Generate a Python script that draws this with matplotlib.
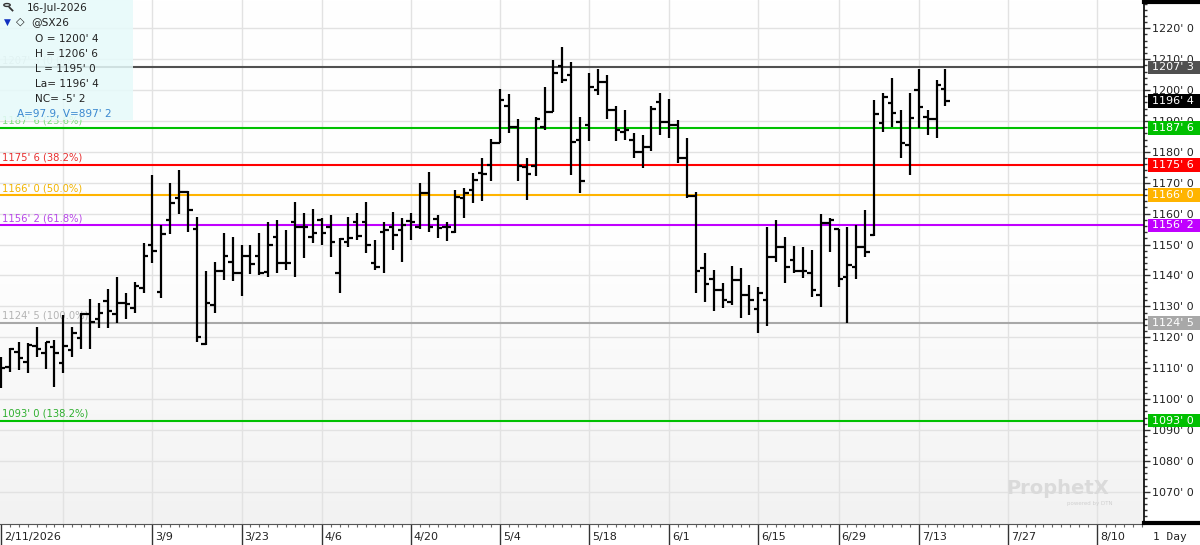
import numpy as np
import pandas as pd
import matplotlib
matplotlib.use("Agg")
import matplotlib.pyplot as plt
from matplotlib.patches import Rectangle, Circle
from matplotlib.lines import Line2D
from matplotlib.colors import LinearSegmentedColormap
from matplotlib.ticker import MultipleLocator, FuncFormatter
from matplotlib.transforms import ScaledTranslation

plt.rcParams['font.family'] = 'DejaVu Sans'

# daily OHLC for @SX26, one row per trading day from 2/11/2026
opens = [1108.0, 1110.5, 1115.3, 1112.1, 1117.2, 1115.0, 1117.0, 1111.8, 1115.9, 1119.9,
         1127.4, 1125.8, 1131.8, 1127.5, 1131.0, 1129.4, 1136.0, 1149.9, 1134.7, 1158.0,
         1165.0, 1167.1, 1155.2, 1117.8, 1130.6, 1141.4, 1144.5, 1140.9, 1146.3, 1146.3,
         1141.0, 1152.6, 1143.9, 1157.4, 1155.8, 1152.6, 1158.0, 1155.6, 1140.7, 1150.9,
         1157.4, 1157.4, 1143.9, 1154.2, 1155.6, 1154.7, 1157.6, 1155.6, 1166.6, 1158.2,
         1155.6, 1154.2, 1165.2, 1167.7, 1173.3, 1175.8, 1182.8, 1194.9, 1188.2, 1175.0,
         1175.4, 1188.2, 1193.0, 1207.8, 1204.9, 1183.8, 1188.7, 1200.0, 1202.7, 1193.5,
         1186.5, 1184.0, 1180.1, 1181.5, 1196.2, 1189.8, 1188.7, 1177.9, 1165.8, 1142.3,
         1138.7, 1135.3, 1131.3, 1138.5, 1133.7, 1129.0, 1132.0, 1146.1, 1149.1, 1145.0,
         1141.5, 1140.9, 1133.7, 1156.9, 1154.9, 1139.6, 1142.8, 1149.1, 1153.1, 1189.2,
         1195.7, 1189.8, 1182.2, 1200.0, 1191.4, 1190.8, 1200.5]
highs = [1113.7, 1116.4, 1118.6, 1118.0, 1123.4, 1118.6, 1119.1, 1127.2, 1123.4, 1127.7,
         1132.3, 1131.2, 1135.5, 1139.6, 1134.2, 1138.0, 1150.4, 1172.5, 1156.3, 1170.0,
         1174.1, 1167.3, 1158.8, 1141.4, 1144.5, 1153.6, 1152.3, 1149.9, 1149.9, 1153.6,
         1157.4, 1157.9, 1154.7, 1163.9, 1160.3, 1161.4, 1158.5, 1159.5, 1152.0, 1158.8,
         1160.1, 1163.9, 1151.5, 1157.4, 1160.6, 1158.5, 1160.3, 1169.8, 1173.6, 1159.6,
         1157.4, 1167.7, 1168.2, 1173.3, 1177.9, 1184.1, 1200.2, 1198.6, 1190.5, 1178.1,
         1191.2, 1200.9, 1209.7, 1213.8, 1209.2, 1191.2, 1205.6, 1206.7, 1204.9, 1194.8,
         1193.5, 1186.0, 1185.5, 1194.8, 1198.9, 1197.0, 1190.3, 1184.4, 1167.1, 1147.2,
         1141.8, 1137.5, 1143.2, 1142.3, 1136.9, 1136.4, 1155.8, 1157.9, 1152.3, 1149.5,
         1149.1, 1148.2, 1159.9, 1158.5, 1154.9, 1155.8, 1156.3, 1161.2, 1196.8, 1198.9,
         1203.8, 1193.5, 1198.9, 1206.7, 1193.5, 1203.3, 1206.75]
lows = [1103.5, 1108.9, 1109.4, 1108.3, 1113.7, 1109.6, 1104.0, 1108.3, 1113.7, 1116.1,
        1116.1, 1122.9, 1122.9, 1124.7, 1125.8, 1128.0, 1134.4, 1143.9, 1132.6, 1153.4,
        1160.0, 1154.2, 1118.6, 1117.5, 1127.7, 1138.5, 1138.3, 1133.4, 1140.5, 1140.2,
        1139.5, 1140.7, 1141.8, 1139.6, 1145.5, 1150.4, 1149.9, 1146.1, 1134.4, 1149.3,
        1151.5, 1147.2, 1141.8, 1140.7, 1148.2, 1144.5, 1151.5, 1155.2, 1154.2, 1152.0,
        1151.2, 1153.8, 1158.7, 1163.6, 1164.2, 1170.7, 1182.8, 1186.0, 1170.7, 1164.4,
        1172.2, 1187.1, 1193.0, 1202.2, 1172.5, 1166.6, 1183.6, 1198.4, 1190.5, 1183.6,
        1183.8, 1177.9, 1174.7, 1180.4, 1185.5, 1184.4, 1176.3, 1165.0, 1134.4, 1131.5,
        1128.6, 1129.4, 1130.4, 1126.1, 1127.2, 1121.5, 1123.6, 1144.5, 1137.7, 1140.7,
        1139.1, 1132.9, 1129.7, 1147.7, 1136.4, 1124.5, 1138.7, 1146.1, 1152.8, 1186.5,
        1188.2, 1177.9, 1172.5, 1187.6, 1185.5, 1184.4, 1195.0]
closes = [1110.2, 1116.1, 1113.2, 1117.5, 1116.2, 1118.4, 1115.0, 1117.2, 1121.3, 1127.5,
          1125.0, 1128.0, 1128.6, 1131.2, 1130.8, 1136.6, 1146.3, 1148.0, 1153.4, 1163.3,
          1167.1, 1161.2, 1120.2, 1131.0, 1141.4, 1146.3, 1140.9, 1146.3, 1143.7, 1140.7,
          1149.9, 1143.9, 1143.9, 1155.8, 1155.6, 1153.8, 1153.6, 1150.9, 1151.7, 1152.0,
          1152.8, 1149.9, 1142.6, 1154.7, 1153.1, 1156.3, 1157.4, 1166.6, 1155.6, 1155.3,
          1155.6, 1165.3, 1166.6, 1170.9, 1172.8, 1182.8, 1196.8, 1188.2, 1175.4, 1173.0,
          1190.5, 1193.0, 1205.4, 1203.3, 1183.3, 1170.7, 1201.1, 1202.7, 1193.5, 1187.1,
          1187.1, 1180.1, 1181.5, 1193.8, 1189.8, 1188.7, 1177.9, 1165.8, 1141.5, 1137.2,
          1135.3, 1132.1, 1138.5, 1133.7, 1132.1, 1134.2, 1146.1, 1149.1, 1142.6, 1141.5,
          1141.5, 1135.3, 1156.9, 1158.1, 1138.7, 1143.4, 1149.1, 1147.7, 1192.3, 1197.6,
          1192.5, 1182.8, 1190.9, 1194.6, 1190.8, 1201.75, 1196.5]

holidays = ['2026-02-16', '2026-04-03', '2026-05-25', '2026-06-19', '2026-07-03']
# fibonacci retracement levels
fib_levels = [1207.375, 1187.75, 1175.75, 1166.0, 1156.25, 1124.625, 1093.0]
fib_pcts = ['0.0%', '23.6%', '38.2%', '50.0%', '61.8%', '100.0%', '138.2%']
fib_colors = ['#505050', '#00c000', '#ff0000', '#ffb400', '#c000ff', '#a8a8a8', '#00c000']
fib_text_colors = ['#c4c4c4', '#80dc80', '#e83030', '#f2b400', '#b848e8', '#b4b4b4', '#30b030']


def fmt_price(v):
    neg = v < 0
    v = abs(v)
    whole = int(np.floor(v + 1e-9))
    eighth = int(round((v - whole) * 8))
    if eighth == 8:
        whole, eighth = whole + 1, 0
    return "{}{}' {}".format('-' if neg else '', whole, eighth)


W, H = 1200, 545
fig = plt.figure(figsize=(W / 100, H / 100), dpi=100)
strip = 21
ax = fig.add_axes([0, strip / H, 1144 / W, (H - strip) / H])

days = pd.bdate_range('2026-02-11', '2026-08-31')
days = days[~days.isin(pd.to_datetime(holidays))]
idx = np.arange(len(opens))

x0, x1 = -0.112, 128.28
y0, y1 = 1059.57, 1229.15
ax.set_xlim(x0, x1)
ax.set_ylim(y0, y1)

# background gradient
cmap = LinearSegmentedColormap.from_list('bg', ['#ffffff', '#fefefe', '#f2f2f2'])
ax.imshow(np.linspace(0, 1, 256).reshape(-1, 1), extent=[x0, x1, y0, y1],
          aspect='auto', cmap=cmap, zorder=0)

# grid
ax.set_yticks(np.arange(1070, 1221, 10))
ax.yaxis.set_minor_locator(MultipleLocator(2))
ax.yaxis.grid(True, color='#e2e2e2', lw=1, zorder=1)
grid_dates = pd.date_range('2026-02-23', '2026-08-10', freq='14D')
for d in grid_dates:
    ax.axvline(days.get_loc(d), color='#e2e2e2', lw=1, zorder=1)

# fib lines + labels
for lev, pct, c, tc in zip(fib_levels, fib_pcts, fib_colors, fib_text_colors):
    ax.axhline(lev, color=c, lw=1.5, zorder=2)
    ax.annotate('{} ({})'.format(fmt_price(lev), pct), (0, lev), xycoords=('axes fraction', 'data'),
                xytext=(1.5, 1.5), textcoords='offset points', color=tc, fontsize=7.2,
                va='bottom', ha='left', zorder=3)

# OHLC bars
ax.vlines(idx, lows, highs, color='black', lw=1.6, zorder=4)
ax.hlines(opens, idx - 0.5, idx, color='black', lw=1.6, zorder=4)
ax.hlines(closes, idx, idx + 0.5, color='black', lw=1.6, zorder=4)

# right price axis
ax.yaxis.tick_right()
ax.yaxis.set_major_formatter(FuncFormatter(lambda v, p: fmt_price(v)))
ax.tick_params(axis='y', which='major', direction='out', length=4, width=1, pad=2,
               labelsize=8, labelcolor='#222222', color='#333333')
ax.tick_params(axis='y', which='minor', direction='out', length=2, width=1, color='#333333')

for s in ['top', 'left']:
    ax.spines[s].set_visible(False)
ax.spines['right'].set_color('black')
ax.spines['right'].set_linewidth(1.2)
ax.spines['bottom'].set_color('#555555')

# date axis
label_dates = [pd.Timestamp('2026-02-11')] + list(pd.date_range('2026-03-09', '2026-08-10', freq='14D'))
label_pos = [days.get_loc(d) for d in label_dates]
label_txt = ['{}/{}/{}'.format(d.month, d.day, d.year) if i == 0 else '{}/{}'.format(d.month, d.day)
             for i, d in enumerate(label_dates)]
ax.set_xticks(label_pos)
ax.set_xticklabels(label_txt)
ax.set_xticks(np.arange(0, 129), minor=True)
ax.tick_params(axis='x', which='major', direction='out', length=strip * 0.72, width=1,
               color='#333333', pad=-9.5, labelsize=8, labelcolor='#222222')
ax.tick_params(axis='x', which='minor', direction='out', length=2.2, width=0.8, color='#666666')
shift = ScaledTranslation(0.03, 0, fig.dpi_scale_trans)
for lab in ax.get_xticklabels():
    lab.set_ha('left')
    lab.set_transform(lab.get_transform() + shift)

# right panel with price boxes
axr = fig.add_axes([1144 / W, strip / H, 56 / W, (H - strip) / H])
axr.set_xlim(0, 1)
axr.set_ylim(y0, y1)
axr.axis('off')
hh = 2.15
box_levels = fib_levels + [closes[-1]]
box_colors = fib_colors + ['#000000']
for lev, c in zip(box_levels, box_colors):
    axr.add_patch(Rectangle((0.07, lev - hh), 0.93, 2 * hh, facecolor=c, edgecolor='none', zorder=5))
    axr.text(0.14, lev, fmt_price(lev), color='white', fontsize=8, va='center', ha='left', zorder=6)

fig.add_artist(Line2D([1144 / W, 1], [1 - 1.5 / H, 1 - 1.5 / H], color='black', lw=3))
fig.add_artist(Line2D([1144 / W, 1], [(strip + 1.5) / H, (strip + 1.5) / H], color='black', lw=3))
fig.text(1153 / W, 1 - 537 / H, '1 Day', fontsize=8, family='DejaVu Sans Mono',
         va='center', ha='left', color='#222222')

# watermark
fig.text(1058 / W, 1 - 489 / H, 'ProphetX', fontsize=14, fontweight='bold', color='#dadada',
         ha='center', va='center')
fig.text(1090 / W, 1 - 503 / H, 'powered by DTN', fontsize=4, color='#d0d0d0',
         ha='center', va='center')

# info box
fig.add_artist(Rectangle((0, 1 - 120 / H), 133 / W, 120 / H, transform=fig.transFigure,
                         facecolor='#e6fafa', edgecolor='none', alpha=0.85, zorder=10))
fig.add_artist(Circle((7 / W, 1 - 5 / H), 3.2 / W, transform=fig.transFigure, fill=False,
                      edgecolor='#333333', lw=1, zorder=11))
fig.add_artist(Line2D([9.5 / W, 12.5 / W], [1 - 7.5 / H, 1 - 10.5 / H], color='#333333', lw=1.3, zorder=11))


def info(x, y, s, **kw):
    kw.setdefault('color', '#222222')
    kw.setdefault('fontsize', 7.6)
    fig.text(x / W, 1 - y / H, s, va='center', ha='left', zorder=11, **kw)


info(27, 8, '16-Jul-2026')
info(4, 22, '\u25bc', color='#1030c0', fontsize=6.5)
info(16, 22, '\u25c7', fontsize=8)
info(31, 22, '@SX26')
info(35, 39, 'O = ' + fmt_price(opens[-1]))
info(35, 54, 'H = ' + fmt_price(highs[-1]))
info(35, 69, 'L = ' + fmt_price(lows[-1]))
info(35, 84, 'La= ' + fmt_price(closes[-1]))
info(35, 99, 'NC= ' + fmt_price(closes[-1] - closes[-2]))
info(17, 114, "A=97.9, V=897' 2", color='#3a88d0')

fig.savefig('out.png', dpi=100)
